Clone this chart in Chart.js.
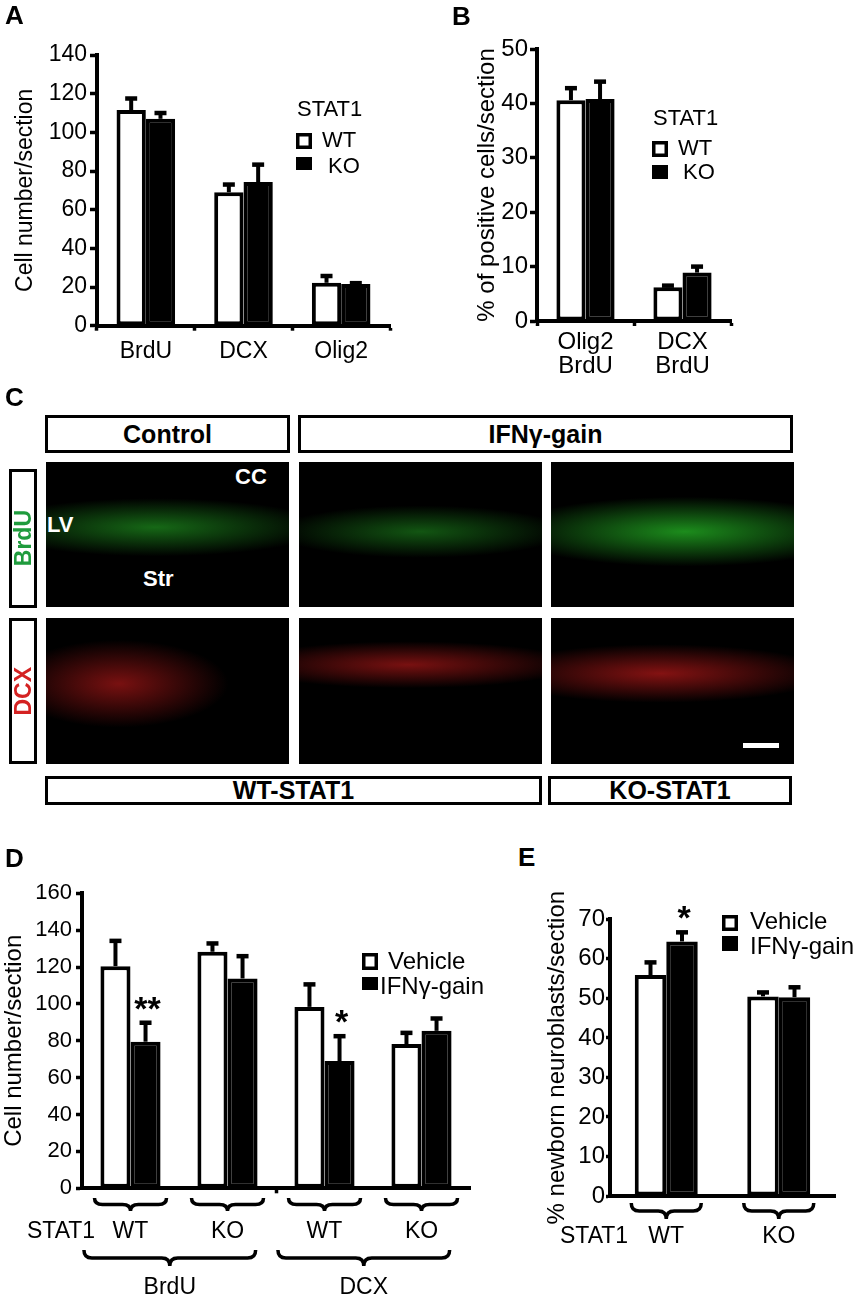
<!DOCTYPE html>
<html><head><meta charset="utf-8">
<script src="https://cdn.jsdelivr.net/npm/chart.js@4.4.1/dist/chart.umd.min.js"></script>
<style>
html,body{margin:0;padding:0;background:#fff;}
body{width:857px;height:1300px;position:relative;overflow:hidden;font-family:"Liberation Sans",Arial,sans-serif;color:#000;}
.plabel{position:absolute;font-weight:bold;font-size:26px;line-height:26px;}
.box{position:absolute;border:3px solid #000;box-sizing:border-box;display:flex;align-items:center;justify-content:center;font-weight:bold;font-size:25px;background:#fff;}
.img{position:absolute;background:#000;overflow:hidden;}
.vbox{position:absolute;border:3px solid #000;box-sizing:border-box;display:flex;align-items:center;justify-content:center;background:#fff;}
.vtxt{writing-mode:vertical-rl;transform:rotate(180deg);font-weight:bold;font-size:23px;}
.itxt{position:absolute;color:#fff;font-weight:bold;font-size:22px;line-height:22px;}
</style>
</head><body>
<script>
// ---------------- DATA ----------------
const aCategories = ['BrdU', 'DCX', 'Olig2'];
const aSeries = ['WT', 'KO'];
const aWT = [111.5, 69, 22.2];
const aWTErr = [6, 4, 3.5];
const aKO = [107, 74.3, 21.6];
const aKOErr = [3, 9, 0.4];
const aLegendTitle = 'STAT1';
const aTickMax = 140, aTickStep = 20;

const bCategories = [['Olig2', 'BrdU'], ['DCX', 'BrdU']];
const bWT = [40.6, 6.2];
const bWTErr = [2.2, 0.3];
const bKO = [40.8, 8.9];
const bKOErr = [3.2, 1.1];
const bTickMax = 50, bTickStep = 10;

const dGenotypes = ['WT', 'KO', 'WT', 'KO'];
const dMarkers = ['BrdU', 'BrdU', 'DCX', 'DCX'];
const dSeries = ['Vehicle', 'IFNγ-gain'];
const dVehicle = [120.5, 128.3, 98.4, 78.2];
const dVehicleErr = [13.7, 4.5, 12.2, 6.1];
const dIFN = [79.5, 113.8, 69, 85.4];
const dIFNErr = [10.3, 12.1, 13.5, 6.7];
const dIFNStars = ['**', '', '*', ''];
const dTickMax = 160, dTickStep = 20;

const eGenotypes = ['WT', 'KO'];
const eVehicle = [55.9, 50.5];
const eVehicleErr = [3.2, 1.0];
const eIFN = [64.4, 50.3];
const eIFNErr = [2.3, 2.5];
const eIFNStars = ['*', ''];
const eTickMax = 70, eTickStep = 10;

// ---------------- HELPERS ----------------
const F = '"Liberation Sans", Arial, sans-serif';
Chart.defaults.font.family = F;
Chart.defaults.color = '#000';

const errorBars = {
  id: 'errorBars',
  afterDatasetsDraw(chart) {
    const ctx = chart.ctx, ys = chart.scales.y;
    chart.data.datasets.forEach((ds, di) => {
      if (!ds.errors) return;
      const meta = chart.getDatasetMeta(di);
      meta.data.forEach((bar, i) => {
        const top = ys.getPixelForValue(ds.data[i] + ds.errors[i]);
        ctx.save();
        ctx.strokeStyle = '#000';
        ctx.lineWidth = 4;
        ctx.beginPath(); ctx.moveTo(bar.x, bar.y); ctx.lineTo(bar.x, top); ctx.stroke();
        ctx.lineWidth = 4.5;
        ctx.beginPath(); ctx.moveTo(bar.x - 6, top); ctx.lineTo(bar.x + 6, top); ctx.stroke();
        if (ds.stars && ds.stars[i]) {
          ctx.fillStyle = '#000';
          ctx.font = 'bold 34px ' + F;
          ctx.textAlign = 'center';
          ctx.textBaseline = 'alphabetic';
          ctx.fillText(ds.stars[i], bar.x + 2, top - 22 + 19);
        }
        ctx.restore();
      });
    });
  }
};

function brace(ctx, x1, x2, y, h) {
  const mid = (x1 + x2) / 2, r = Math.min(8, (x2 - x1) / 6), hm = y + h / 2;
  ctx.beginPath();
  ctx.moveTo(x1, y);
  ctx.quadraticCurveTo(x1, hm, x1 + r, hm);
  ctx.lineTo(mid - r, hm);
  ctx.quadraticCurveTo(mid, hm, mid, y + h);
  ctx.quadraticCurveTo(mid, hm, mid + r, hm);
  ctx.lineTo(x2 - r, hm);
  ctx.quadraticCurveTo(x2, hm, x2, y);
  ctx.stroke();
}

function legendPlugin(rect, spec) {
  return {
    id: 'customLegend',
    afterDraw(chart) {
      const ctx = chart.ctx;
      ctx.save();
      ctx.font = spec.size + 'px ' + F;
      ctx.fillStyle = '#000';
      ctx.textBaseline = 'middle';
      ctx.textAlign = 'left';
      if (spec.title) ctx.fillText(spec.title, spec.titleX - rect.x, spec.titleY - rect.y);
      chart.data.datasets.forEach((ds, i) => {
        const it = spec.items[i];
        const [bx, by, bw, bh] = it.box;
        const x = bx - rect.x, y = by - rect.y;
        ctx.fillStyle = ds.backgroundColor;
        ctx.fillRect(x, y, bw, bh);
        ctx.lineWidth = 3.5;
        ctx.strokeStyle = ds.borderColor;
        ctx.strokeRect(x + 1.75, y + 1.75, bw - 3.5, bh - 3.5);
        ctx.fillStyle = '#000';
        ctx.fillText(ds.label, it.tx - rect.x, it.ty - rect.y);
      });
      ctx.restore();
    }
  };
}

function makeCanvas(rect) {
  const cv = document.createElement('canvas');
  cv.width = rect.w; cv.height = rect.h;
  cv.style.cssText = `position:absolute;left:${rect.x}px;top:${rect.y}px;width:${rect.w}px;height:${rect.h}px;`;
  document.body.appendChild(cv);
  return cv;
}

function barChart(o) {
  const rect = o.rect, area = o.area;
  const cv = makeCanvas(rect);
  return new Chart(cv, {
    type: 'bar',
    data: { labels: o.labels, datasets: o.datasets },
    options: {
      responsive: false,
      animation: false,
      devicePixelRatio: 1,
      layout: { padding: { top: area.top - rect.y, right: rect.x + rect.w - area.right, left: 0, bottom: 0 } },
      plugins: { legend: { display: false }, tooltip: { enabled: false } },
      datasets: { bar: { categoryPercentage: o.catPct, barPercentage: 1, borderWidth: 4, borderSkipped: false } },
      scales: {
        x: {
          grid: { display: true, drawOnChartArea: false, tickLength: 5, tickWidth: 3.5,
                  tickColor: o.xTickColor || '#000', color: o.xTickColor || '#000' },
          border: { display: true, width: 4, color: '#000' },
          ticks: { display: o.showX, font: { family: F, size: o.xFont, lineHeight: o.xLineHeight || 1.2 },
                   color: '#000', padding: o.xPad || 0, maxRotation: 0, minRotation: 0, autoSkip: false },
          afterFit: s => { s.height = rect.y + rect.h - area.bottom; }
        },
        y: {
          min: 0, max: o.max,
          ticks: { stepSize: o.step, font: { family: F, size: o.yFont }, color: '#000', padding: o.yPad },
          grid: { display: true, drawOnChartArea: false, tickLength: o.yTick, tickWidth: 3.5, tickColor: '#000' },
          border: { display: true, width: 4, color: '#000' },
          title: { display: true, text: o.yTitle, color: '#000', font: { family: F, size: o.titleFont, lineHeight: 1.2 },
                   padding: { top: o.titlePad, bottom: 0 } },
          afterFit: s => { s.width = area.left - rect.x; }
        }
      }
    },
    plugins: [errorBars].concat(o.plugins || [])
  });
}

function ds(label, data, errors, filled, stars) {
  return { label, data, errors, stars,
           backgroundColor: filled ? '#000' : '#fff', borderColor: '#000', borderWidth: 4 };
}

// ---------------- PANEL A ----------------
const rectA = { x: 0, y: 28, w: 400, h: 342 };
barChart({
  rect: rectA, area: { left: 97, top: 55, right: 390, bottom: 325.7 },
  labels: aCategories,
  datasets: [ds(aSeries[0], aWT, aWTErr, false), ds(aSeries[1], aKO, aKOErr, true)],
  catPct: 0.6, max: aTickMax, step: aTickStep,
  showX: true, xFont: 23, xPad: 7,
  yFont: 23, yPad: 3, yTick: 7,
  yTitle: 'Cell number/section', titleFont: 23, titlePad: 12,
  plugins: [legendPlugin(rectA, { size: 22, title: aLegendTitle, titleX: 297, titleY: 110,
    items: [{ box: [296, 133, 16, 16], tx: 322, ty: 141 }, { box: [296, 157, 16, 13], tx: 328, ty: 167 }] })]
});

// ---------------- PANEL B ----------------
const rectB = { x: 430, y: 25, w: 310, h: 365 };
barChart({
  rect: rectB, area: { left: 537, top: 49, right: 731, bottom: 321 },
  labels: bCategories,
  datasets: [ds(aSeries[0], bWT, bWTErr, false), ds(aSeries[1], bKO, bKOErr, true)],
  catPct: 0.6, max: bTickMax, step: bTickStep,
  showX: true, xFont: 24, xPad: 4, xLineHeight: 1.0,
  yFont: 24, yPad: 2, yTick: 7,
  yTitle: '% of positive cells/section', titleFont: 24, titlePad: 43,
  plugins: [legendPlugin(rectB, { size: 22, title: aLegendTitle, titleX: 653, titleY: 119,
    items: [{ box: [652, 141, 16, 16], tx: 678, ty: 149 }, { box: [652, 165, 16, 14], tx: 683, ty: 173 }] })]
});

// ---------------- PANEL D ----------------
const rectD = { x: 0, y: 870, w: 500, h: 430 };
const dBraces = {
  id: 'dBraces',
  afterDraw(chart) {
    const ctx = chart.ctx, xs = chart.scales.x, oy = rectD.y;
    const cw = xs.getPixelForValue(1) - xs.getPixelForValue(0);
    ctx.save();
    ctx.strokeStyle = '#000'; ctx.lineWidth = 3.5; ctx.fillStyle = '#000';
    ctx.font = '23px ' + F; ctx.textBaseline = 'middle';
    ctx.textAlign = 'left';
    ctx.fillText('STAT1', 27, 1232 - oy);
    ctx.textAlign = 'center';
    dGenotypes.forEach((g, i) => {
      const cx = xs.getPixelForValue(i);
      brace(ctx, cx - 36, cx + 36, 1198 - oy, 13);
      ctx.fillText(g, cx, 1232 - oy);
    });
    const groups = [...new Set(dMarkers)];
    groups.forEach(gname => {
      const idx = dMarkers.map((m, i) => m === gname ? i : -1).filter(i => i >= 0);
      const l = xs.getPixelForValue(idx[0]) - 0.48 * cw;
      const r = xs.getPixelForValue(idx[idx.length - 1]) + 0.29 * cw;
      brace(ctx, l, r, 1250 - oy, 16);
      ctx.fillText(gname, (l + r) / 2, 1288 - oy);
    });
    ctx.restore();
  }
};
barChart({
  rect: rectD, area: { left: 82, top: 893.3, right: 470, bottom: 1188.3 },
  labels: dGenotypes,
  datasets: [ds(dSeries[0], dVehicle, dVehicleErr, false), ds(dSeries[1], dIFN, dIFNErr, true, dIFNStars)],
  catPct: 0.62, max: dTickMax, step: dTickStep,
  showX: false, xFont: 23,
  xTickColor: c => (c.index === 2 || c.index === 4) ? '#000' : 'rgba(0,0,0,0)',
  yFont: 22, yPad: 4, yTick: 6,
  yTitle: 'Cell number/section', titleFont: 24, titlePad: 0,
  plugins: [dBraces, legendPlugin(rectD, { size: 24,
    items: [{ box: [362, 953, 16, 17], tx: 388, ty: 962 }, { box: [362, 977, 16, 13], tx: 380, ty: 987 }] })]
});

// ---------------- PANEL E ----------------
const rectE = { x: 500, y: 880, w: 357, h: 420 };
const eBraces = {
  id: 'eBraces',
  afterDraw(chart) {
    const ctx = chart.ctx, xs = chart.scales.x, ox = rectE.x, oy = rectE.y;
    ctx.save();
    ctx.strokeStyle = '#000'; ctx.lineWidth = 3.5; ctx.fillStyle = '#000';
    ctx.font = '23px ' + F; ctx.textBaseline = 'middle';
    ctx.textAlign = 'left';
    ctx.fillText('STAT1', 560 - ox, 1237 - oy);
    ctx.textAlign = 'center';
    eGenotypes.forEach((g, i) => {
      const cx = xs.getPixelForValue(i);
      brace(ctx, cx - 35, cx + 35, 1203 - oy, 16);
      ctx.fillText(g, cx, 1237 - oy);
    });
    ctx.restore();
  }
};
barChart({
  rect: rectE, area: { left: 610, top: 919.3, right: 835, bottom: 1196 },
  labels: eGenotypes,
  datasets: [ds(dSeries[0], eVehicle, eVehicleErr, false), ds(dSeries[1], eIFN, eIFNErr, true, eIFNStars)],
  catPct: 0.56, max: eTickMax, step: eTickStep,
  showX: false, xFont: 23,
  xTickColor: c => (c.index === 2) ? '#000' : 'rgba(0,0,0,0)',
  yFont: 24, yPad: 1, yTick: 4,
  yTitle: '% newborn neuroblasts/section', titleFont: 24, titlePad: 43,
  plugins: [eBraces, legendPlugin(rectE, { size: 24,
    items: [{ box: [722, 915, 16, 16], tx: 750, ty: 922 }, { box: [722, 936, 16, 15], tx: 750, ty: 947 }] })]
});
</script>

<!-- panel letters -->
<div class="plabel" style="left:5px;top:2px;">A</div>
<div class="plabel" style="left:452px;top:3px;">B</div>
<div class="plabel" style="left:5px;top:384px;">C</div>
<div class="plabel" style="left:5px;top:845px;">D</div>
<div class="plabel" style="left:518px;top:844px;">E</div>

<!-- panel C -->
<div class="box" style="left:45px;top:415px;width:245px;height:38px;">Control</div>
<div class="box" style="left:298px;top:415px;width:495px;height:38px;">IFNγ-gain</div>

<div class="vbox" style="left:9px;top:469px;width:28px;height:139px;"><span class="vtxt" style="color:#1f9b3d;">BrdU</span></div>
<div class="vbox" style="left:9px;top:618px;width:28px;height:146px;"><span class="vtxt" style="color:#d42222;">DCX</span></div>

<div class="img" style="left:46px;top:462px;width:243px;height:145px;background:radial-gradient(ellipse 70% 20% at 45% 45%, rgba(40,190,40,0.55), rgba(0,0,0,0) 100%), #000;"></div>
<div class="img" style="left:299px;top:462px;width:243px;height:145px;background:radial-gradient(ellipse 60% 18% at 50% 48%, rgba(40,190,40,0.45), rgba(0,0,0,0) 100%), #000;"></div>
<div class="img" style="left:551px;top:462px;width:243px;height:145px;background:radial-gradient(ellipse 75% 24% at 55% 48%, rgba(40,200,40,0.7), rgba(0,0,0,0) 100%), #000;"></div>

<div class="img" style="left:46px;top:618px;width:243px;height:146px;background:radial-gradient(ellipse 45% 30% at 30% 45%, rgba(220,30,30,0.55), rgba(0,0,0,0) 100%), #000;"></div>
<div class="img" style="left:299px;top:618px;width:243px;height:146px;background:radial-gradient(ellipse 70% 16% at 45% 32%, rgba(220,30,30,0.55), rgba(0,0,0,0) 100%), #000;"></div>
<div class="img" style="left:551px;top:618px;width:243px;height:146px;background:radial-gradient(ellipse 70% 20% at 45% 38%, rgba(220,30,30,0.6), rgba(0,0,0,0) 100%), #000;"></div>

<div class="itxt" style="left:235px;top:466px;">CC</div>
<div class="itxt" style="left:47px;top:514px;">LV</div>
<div class="itxt" style="left:143px;top:568px;">Str</div>
<div style="position:absolute;left:743px;top:743px;width:36px;height:5px;background:#fff;"></div>

<div class="box" style="left:45px;top:776px;width:497px;height:29px;">WT-STAT1</div>
<div class="box" style="left:548px;top:776px;width:244px;height:29px;">KO-STAT1</div>
</body></html>
